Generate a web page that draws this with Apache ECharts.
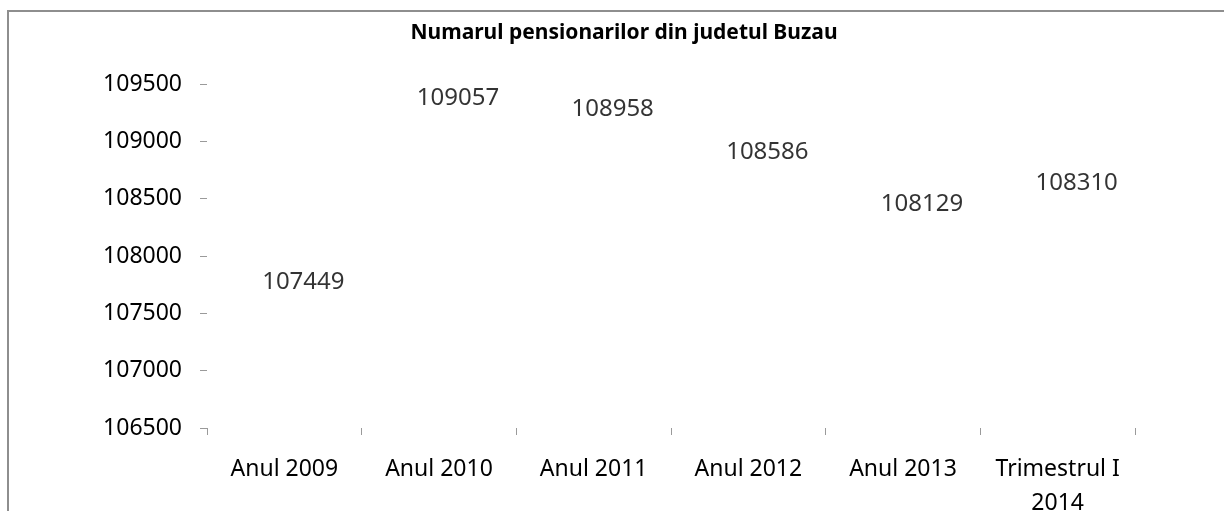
<!DOCTYPE html>
<html>
<head>
<meta charset="utf-8">
<script src="https://cdn.jsdelivr.net/npm/echarts@6/dist/echarts.min.js"></script>
<style>
  html, body { margin: 0; padding: 0; background: #fff; }
  #chart { width: 1224px; height: 511px; }
</style>
</head>
<body>
<div id="chart"></div>
<script>
// data
const categories = ['Anul 2009', 'Anul 2010', 'Anul 2011', 'Anul 2012', 'Anul 2013', 'Trimestrul I\n2014'];
const pensioners = [107449, 109057, 108958, 108586, 108129, 108310];
const yMin = 106500;
const yMax = 109500;
const yStep = 500;

const font = '"Noto Sans", "Open Sans", sans-serif';
const chart = echarts.init(document.getElementById('chart'), null, { renderer: 'canvas' });

chart.setOption({
  animation: false,
  backgroundColor: '#fff',
  title: {
    text: 'Numarul pensionarilor din judetul Buzau',
    left: 619,
    top: 18,
    textAlign: 'center',
    textStyle: { fontFamily: font, fontWeight: 'bold', fontSize: 21, color: '#000' }
  },
  graphic: [{
    type: 'rect',
    shape: { x: 8, y: 11, width: 1400, height: 700 },
    style: { fill: 'none', stroke: '#8e8e8e', lineWidth: 2 },
    silent: true
  }],
  grid: { left: 207, right: 89, top: 84, bottom: 83, outerBoundsMode: 'none', containLabel: false },
  xAxis: {
    type: 'category',
    data: categories,
    boundaryGap: true,
    axisLine: { show: false },
    axisTick: { show: true, length: 7, lineStyle: { color: '#9a9a9a', width: 1 } },
    axisLabel: {
      margin: 24,
      fontFamily: font,
      fontSize: 23,
      lineHeight: 34,
      color: '#000',
      interval: 0
    }
  },
  yAxis: {
    type: 'value',
    min: yMin,
    max: yMax,
    interval: yStep,
    splitLine: { show: false },
    axisLine: { show: false },
    axisTick: { show: true, length: 7, lineStyle: { color: '#9a9a9a', width: 1 } },
    axisLabel: { margin: 25, fontFamily: font, fontSize: 23, color: '#000', formatter: (v) => String(v) }
  },
  series: [{
    type: 'scatter',
    data: pensioners,
    symbolSize: 1,
    itemStyle: { color: 'rgba(0,0,0,0)' },
    label: {
      show: true,
      position: 'inside',
      offset: [19, -37],
      fontFamily: font,
      fontSize: 24,
      color: '#000'
    }
  }]
});
</script>
</body>
</html>
